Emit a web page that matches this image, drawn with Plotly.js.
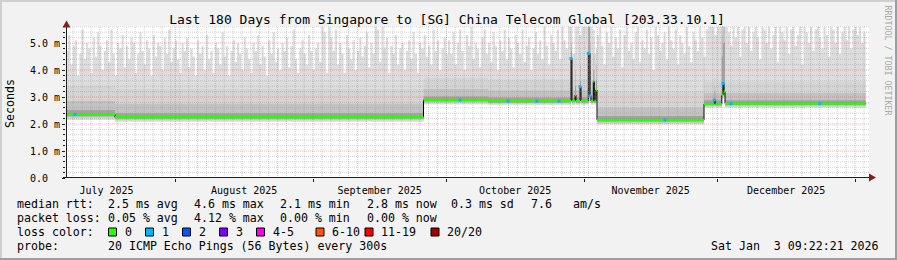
<!DOCTYPE html>
<html>
<head>
<meta charset="utf-8">
<script src="https://cdn.plot.ly/plotly-3.0.1.min.js"></script>
<style>
html,body{margin:0;padding:0;background:#f2f2f2;overflow:hidden;}
#wrap{position:relative;width:897px;height:260px;}
#chart{position:absolute;left:0;top:0;width:897px;height:260px;}
.edge{position:absolute;}
</style>
</head>
<body>
<div id="wrap">
<div id="chart"></div>
<div class="edge" style="left:0;top:0;width:897px;height:2px;background:#cfcfcf"></div>
<div class="edge" style="left:0;top:0;width:2px;height:260px;background:#cfcfcf"></div>
<div class="edge" style="left:0;top:258px;width:897px;height:2px;background:#9e9e9e"></div>
<div class="edge" style="left:895px;top:0;width:2px;height:260px;background:#9e9e9e"></div>
</div>
<script>
// ---------------- DATA ----------------
const titleText = 'Last 180 Days from Singapore to [SG] China Telecom Global [203.33.10.1]';
const startTime = '2025-07-07 09:22';
const endTime = '2026-01-03 09:22';
const rangeEnd = '2026-01-04 03:22';

// breakpoints of the median / inner smoke (ms)
const bpTime = ['2025-07-07 09:22','2025-07-18 10:00','2025-09-25 20:40','2025-10-10 09:10',
  '2025-10-29 01:20','2025-10-29 06:45','2025-10-29 23:15','2025-10-30 04:40','2025-10-31 02:10',
  '2025-10-31 07:35','2025-11-01 23:00','2025-11-02 08:00','2025-11-02 13:30','2025-11-03 02:00',
  '2025-11-03 07:30','2025-11-03 16:00','2025-11-03 22:00','2025-11-28 00:00','2025-11-30 07:40',
  '2025-11-30 13:05','2025-12-02 00:00','2025-12-02 06:30','2025-12-02 12:00','2025-12-02 17:30',
  '2026-01-03 09:22'];
const medianRtt = [2.35,2.25,2.89,2.85,4.43,2.85,3.07,2.85,3.38,2.85,4.62,3.04,2.85,3.57,2.85,3.26,2.15,2.74,2.89,2.74,3.07,3.50,3.20,2.76,2.76];
const ping1  = [2.15,2.08,2.72,2.70,2.80,2.70,2.75,2.70,2.75,2.70,2.78,2.78,2.70,2.78,2.70,2.78,1.98,2.60,2.62,2.60,2.90,2.95,2.95,2.60,2.60];
const ping3  = [2.20,2.12,2.76,2.74,2.85,2.74,2.80,2.74,2.80,2.74,2.85,2.83,2.74,2.85,2.74,2.85,2.02,2.63,2.66,2.63,2.95,3.00,3.00,2.63,2.63];
const ping5  = [2.25,2.16,2.80,2.77,2.90,2.77,2.85,2.77,2.85,2.77,2.95,2.90,2.77,2.95,2.77,2.90,2.06,2.67,2.70,2.67,3.00,3.05,3.05,2.67,2.67];
const ping7  = [2.29,2.20,2.84,2.80,3.00,2.80,2.90,2.80,2.95,2.80,3.10,2.95,2.80,3.05,2.80,2.95,2.10,2.70,2.75,2.70,3.05,3.10,3.10,2.70,2.70];
const ping14 = [2.52,2.40,3.02,2.98,4.70,2.98,3.40,2.98,3.60,2.98,5.60,4.00,2.98,4.00,2.98,3.60,2.30,2.88,3.20,2.88,4.50,5.00,5.00,2.88,2.88];
const ping17 = [2.85,2.75,3.30,3.25,5.00,3.25,4.00,3.25,4.20,3.25,5.60,5.00,3.25,4.60,3.25,4.20,2.60,3.15,3.40,3.15,5.30,5.60,5.60,3.15,3.15];
const ping19 = [3.40,3.30,3.70,3.65,5.30,3.65,4.60,3.65,4.80,3.65,5.60,5.50,3.65,5.20,3.65,4.80,3.20,3.55,3.70,3.55,5.60,5.60,5.60,3.55,3.55];

// highest ping (ms), one value every 12 hours from startTime
const ping20 = [
 4.7,5.3,4.2,4.9,5.1,3.8,4.6,5.5,4.4,5.0,4.8,3.9,5.2,4.5,5.4,4.9,4.0,4.7,5.1,4.3,
 5.5,4.6,3.8,5.0,4.8,5.3,4.1,4.9,4.4,5.2,5.0,3.9,4.6,5.4,4.7,4.2,5.1,4.8,3.8,5.3,
 4.5,5.0,4.9,4.0,5.2,4.6,5.5,4.3,4.8,5.1,
 4.4,3.9,5.0,4.7,5.2,4.1,4.8,4.5,3.8,5.1,4.6,4.9,4.0,5.3,4.4,4.7,3.9,5.0,4.8,4.2,
 5.4,4.5,4.9,3.8,4.7,5.1,4.3,5.0,4.6,4.0,5.2,4.8,4.4,3.9,5.0,4.7,5.3,4.2,4.9,4.5,
 3.8,5.1,4.6,5.4,4.3,4.8,4.0,5.0,4.7,5.2,4.1,4.9,5.5,4.4,3.9,4.8,5.1,4.6,4.2,5.3,
 4.7,4.0,
 4.8,5.0,4.3,5.6,5.4,3.9,5.6,5.2,4.7,5.5,4.2,5.0,4.6,3.9,5.3,4.8,4.4,5.1,4.0,4.7,
 5.2,4.5,4.9,5.4,4.1,5.0,4.6,5.6,5.5,4.3,5.6,4.8,5.2,3.9,4.9,4.6,5.3,4.2,4.8,5.0,
 4.0,4.7,5.1,4.4,5.4,4.6,3.9,5.0,4.8,5.3,4.5,4.9,4.2,5.5,4.7,5.1,4.0,4.8,5.2,4.6,
 5.1,4.6,5.4,4.2,5.0,5.5,4.7,4.0,5.3,4.9,5.6,4.4,5.0,4.8,4.1,5.2,5.5,4.6,5.0,4.3,
 5.4,4.9,4.0,5.1,4.7,5.5,4.4,5.2,4.8,4.1,5.3,5.0,4.6,5.5,4.3,4.9,5.2,4.0,4.8,5.4,
 4.6,5.1,4.4,5.6,4.9,4.2,5.3,5.0,4.7,5.5,4.4,5.6,5.1,4.8,5.6,5.6,4.6,5.6,5.6,5.3,
 5.6,5.6,
 5.6,5.6,5.6,5.5,4.6,5.3,5.6,4.9,4.2,5.4,5.0,5.6,4.5,5.2,4.8,5.5,4.1,5.3,5.6,4.7,
 5.0,4.4,5.4,5.6,4.3,5.1,4.8,5.5,4.6,5.2,4.0,5.6,5.3,4.7,5.0,5.4,4.4,5.6,5.1,4.8,
 5.5,4.2,5.3,5.0,4.6,5.6,4.9,4.3,5.4,5.1,4.7,5.6,5.2,4.5,5.5,5.6,5.6,5.6,5.3,5.6,
 5.6,5.6,5.6,5.6,5.4,4.9,5.6,5.2,5.6,4.5,5.5,5.6,5.0,5.6,4.7,5.4,5.6,5.2,4.4,5.6,
 5.5,5.0,5.6,4.8,5.3,5.6,4.3,5.6,5.4,5.1,5.6,4.6,5.5,5.6,4.9,5.3,5.6,4.2,5.6,5.4,
 5.0,5.6,4.7,5.5,5.6,5.2,4.8,5.6,5.3,4.5,5.6,5.5,5.0,5.6,4.6,5.4,5.6,5.1,5.6,4.8,
 5.5,5.6,5.3,5.6,5.0,5.4,5.4
];

// times where the median had packet loss, and how many pings were lost
const lossTime = ['2025-07-09 10:00','2025-10-04 02:00','2025-10-14 21:20','2025-10-21 09:22','2025-10-26 08:40',
  '2025-10-29 01:20','2025-10-31 02:10','2025-11-01 23:00','2025-11-02 08:00','2025-11-19 04:40',
  '2025-11-30 07:40','2025-12-02 06:30','2025-12-04 02:00','2025-12-24 02:00'];
const lossCount = [1,1,1,1,1,1,1,1,1,1,1,1,1,1];

const yTickVals = [0,1,2,3,4,5];
const yTickText = ['0.0\u00a0\u00a0','1.0 m','2.0 m','3.0 m','4.0 m','5.0 m'];
const monthStarts = ['2025-08-01','2025-09-01','2025-10-01','2025-11-01','2025-12-01','2026-01-01'];

const lossLabels = ['0','1','2','3','4-5','6-10','11-19','20/20'];
const lossColors = ['#26ff00','#00b8ff','#0059ff','#7e00ff','#ff00ea','#ff5500','#ff0000','#a10000'];
const rttStats = ['median rtt:','2.5 ms avg','4.6 ms max','2.1 ms min','2.8 ms now','0.3 ms sd','7.6','am/s'];
const lossStats = ['packet loss:','0.05 % avg','4.12 % max','0.00 % min','0.00 % now'];
const probeText = ['probe:','20 ICMP Echo Pings (56 Bytes) every 300s'];
const stampText = 'Sat Jan\u00a0\u00a03 09:22:21 2026';
const watermark = 'RRDTOOL / TOBI OETIKER';

// ---------------- LAYOUT HELPERS ----------------
const L = 66, T = 26, W = 803, H = 152, B = T + H;
const fx = px => (px - L) / W;
const fy = py => (B - py) / H;
const mono = 'DejaVu Sans Mono';
const DAY = 86400000;
function addDays(s, n) {
  const d = new Date(s.replace(' ', 'T') + ':00Z');
  d.setTime(d.getTime() + n * DAY);
  return d.toISOString().slice(0, 16).replace('T', ' ');
}
function colorForLoss(c) {
  if (c <= 0) return lossColors[0];
  if (c === 1) return lossColors[1];
  if (c === 2) return lossColors[2];
  if (c === 3) return lossColors[3];
  if (c <= 5) return lossColors[4];
  if (c <= 10) return lossColors[5];
  if (c <= 19) return lossColors[6];
  return lossColors[7];
}
function medianAt(t) {
  let v = medianRtt[0];
  for (let i = 0; i < bpTime.length; i++) if (bpTime[i] <= t) v = medianRtt[i];
  return v;
}

// ---------------- TRACES ----------------
const traces = [];
const hidden = {width: 0, shape: 'hv'};
function band(lo, hiTrace, color) {
  traces.push({x: bpTime, y: lo, mode: 'lines', line: hidden, hoverinfo: 'skip'});
  hiTrace.mode = 'lines'; hiTrace.line = hidden; hiTrace.fill = 'tonexty'; hiTrace.fillcolor = color;
  traces.push(hiTrace);
}
band(ping1, {x0: startTime, dx: DAY / 2, y: ping20}, '#dddddd');
band(ping3, {x: bpTime, y: ping19}, '#d4d4d4');
band(ping5, {x: bpTime, y: ping17}, '#c2c2c2');
band(ping7, {x: bpTime, y: ping14}, '#a2a2a2');

traces.push({x: bpTime, y: medianRtt, mode: 'lines', line: {color: '#000000', width: 1, shape: 'hv'}});
const gx = [], gy = [];
for (let i = 0; i < bpTime.length - 1; i++) {
  gx.push(bpTime[i], bpTime[i + 1], null);
  gy.push(medianRtt[i], medianRtt[i], null);
}
traces.push({x: gx, y: gy, mode: 'lines', line: {color: lossColors[0], width: 2.5}, connectgaps: false});
traces.push({x: lossTime, y: lossTime.map(medianAt), mode: 'markers',
  marker: {symbol: 'square', size: 3, color: lossCount.map(colorForLoss), line: {width: 0}}});

// ---------------- SHAPES ----------------
const shapes = [];
const minorCol = 'rgba(143,143,143,0.4)';
const majorCol = 'rgba(222,79,79,0.45)';
for (let d = '2025-07-09 00:00'; d < rangeEnd; d = addDays(d, 2)) {
  if (monthStarts.some(m => d.startsWith(m))) continue;
  shapes.push({type: 'line', xref: 'x', yref: 'paper', x0: d, x1: d, y0: 0, y1: 1,
    line: {color: minorCol, width: 1, dash: '1px,1px'}, layer: 'above'});
}
for (let k = 1; k * 0.2 < 5.63; k++) {
  if (k % 5 === 0) continue;
  shapes.push({type: 'line', xref: 'paper', yref: 'y', x0: 0, x1: 1, y0: k * 0.2, y1: k * 0.2,
    line: {color: minorCol, width: 1, dash: '1px,1px'}, layer: 'above'});
}
monthStarts.forEach(m => shapes.push({type: 'line', xref: 'x', yref: 'paper', x0: m, x1: m, y0: 0, y1: 1,
  line: {color: majorCol, width: 1, dash: '1px,1px'}, layer: 'above'}));
yTickVals.slice(1).forEach(v => shapes.push({type: 'line', xref: 'paper', yref: 'y', x0: 0, x1: 1, y0: v, y1: v,
  line: {color: majorCol, width: 1, dash: '1px,1px'}, layer: 'above'}));
// axes and arrows
shapes.push({type: 'line', xref: 'paper', yref: 'paper', x0: fx(66.5), x1: fx(66.5), y0: fy(178), y1: fy(26),
  line: {color: '#1f1f1f', width: 1}, layer: 'above'});
shapes.push({type: 'line', xref: 'paper', yref: 'paper', x0: fx(63), x1: fx(870), y0: fy(177.5), y1: fy(177.5),
  line: {color: '#1f1f1f', width: 1}, layer: 'above'});
shapes.push({type: 'path', xref: 'paper', yref: 'paper',
  path: `M ${fx(66.5)} ${fy(20.5)} L ${fx(62.5)} ${fy(27.5)} L ${fx(70.5)} ${fy(27.5)} Z`,
  fillcolor: '#801f1f', line: {width: 0}, layer: 'above'});
shapes.push({type: 'path', xref: 'paper', yref: 'paper',
  path: `M ${fx(869)} ${fy(173.5)} L ${fx(876)} ${fy(177.5)} L ${fx(869)} ${fy(181.5)} Z`,
  fillcolor: '#801f1f', line: {width: 0}, layer: 'above'});
// loss colour boxes
const boxX = [108.5, 145.5, 182.5, 219.5, 256.5, 316, 365, 431];
lossColors.forEach((c, i) => shapes.push({type: 'rect', xref: 'paper', yref: 'paper',
  x0: fx(boxX[i]), x1: fx(boxX[i] + 8), y0: fy(236), y1: fy(228),
  fillcolor: c, line: {color: '#000000', width: 1}}));

// ---------------- ANNOTATIONS ----------------
const ann = [];
function txt(px, py, s, opts = {}) {
  ann.push(Object.assign({xref: 'paper', yref: 'paper', x: fx(px), y: fy(py), text: s, showarrow: false,
    xanchor: 'left', yanchor: 'middle', borderpad: 0,
    font: {family: mono, size: 11.6, color: '#000000'}}, opts));
}
const rttX = [16, 107.3, 193.3, 279.3, 365.7, 450, 530, 572];
rttStats.forEach((s, i) => txt(rttX[i], 204, s));
const lossX = [16, 107.3, 193.3, 279.3, 365.7];
lossStats.forEach((s, i) => txt(lossX[i], 218, s));
txt(16, 232, 'loss color:');
lossLabels.forEach((s, i) => txt(boxX[i] + 15, 232, s));
txt(16, 246, probeText[0]);
txt(107.3, 246, probeText[1]);
txt(880, 246, stampText, {xanchor: 'right'});
txt(10, 104, 'Seconds', {xanchor: 'center', textangle: -90});
txt(887.5, 60, watermark, {xanchor: 'center', textangle: 90, font: {family: mono, size: 8.3, color: '#a8a8a8'}});

// ---------------- LAYOUT ----------------
const layout = {
  width: 897, height: 260,
  margin: {l: L, r: 897 - L - W, t: T, b: 260 - B, pad: 0},
  paper_bgcolor: '#f2f2f2', plot_bgcolor: '#ffffff',
  showlegend: false,
  title: {text: titleText, xref: 'container', yref: 'container', x: 447 / 897, xanchor: 'center',
    y: 1 - 19 / 260, yanchor: 'middle', font: {family: mono, size: 13, color: '#000000'}},
  xaxis: {type: 'date', range: [startTime, rangeEnd], tickmode: 'linear', tick0: '2025-08-01', dtick: 'M1',
    ticklabelmode: 'period', tickformat: '%B %Y', showgrid: false, zeroline: false, showline: false,
    ticks: 'outside', ticklen: 3, tickcolor: '#1f1f1f',
    tickfont: {family: mono, size: 10, color: '#000000'}, fixedrange: true},
  yaxis: {range: [0, 5.63], tickmode: 'array', tickvals: yTickVals, ticktext: yTickText,
    showgrid: false, zeroline: false, showline: false, ticks: 'outside', ticklen: 3, tickcolor: '#1f1f1f',
    minor: {tickmode: 'linear', tick0: 0, dtick: 0.2, ticks: 'outside', ticklen: 2, tickcolor: '#1f1f1f', showgrid: false},
    tickfont: {family: mono, size: 10, color: '#000000'}, fixedrange: true},
  shapes: shapes,
  annotations: ann
};
Plotly.newPlot('chart', traces, layout, {staticPlot: true, displayModeBar: false});
</script>
</body>
</html>
